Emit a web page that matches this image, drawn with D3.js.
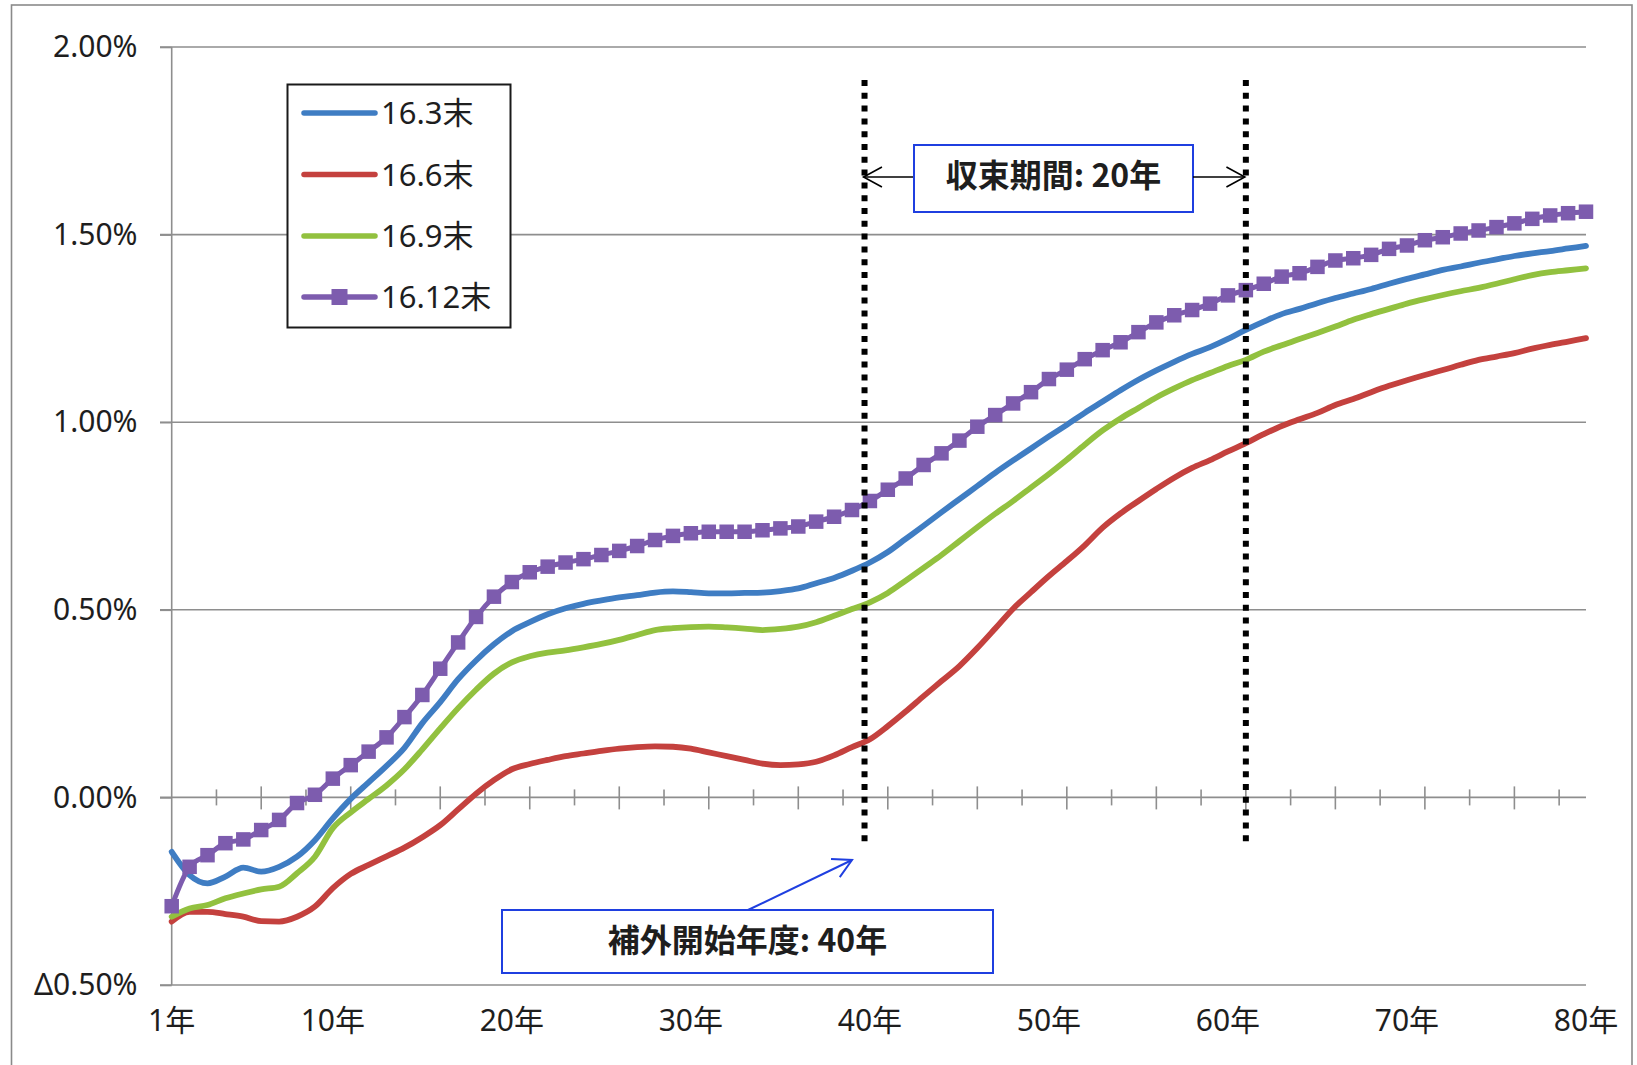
<!DOCTYPE html>
<html><head><meta charset="utf-8">
<script src="https://cdn.jsdelivr.net/npm/d3@7"></script>
<style>
html,body{margin:0;padding:0;background:#fff;}
svg{display:block;}
text{font-family:"Noto Sans","Noto Sans CJK JP",sans-serif;fill:#1e1e1e;}
</style></head><body>
<svg id="chart" width="1637" height="1065"></svg>
<script>
// Elapsed years (category axis) and labelled years
const years = d3.range(1, 81);
const xLabelYears = [1, 10, 20, 30, 40, 50, 60, 70, 80];
const yTickValues = [-0.5, 0, 0.5, 1.0, 1.5, 2.0];

// Series names (legend) and values in %
const seriesNames = ["16.3末", "16.6末", "16.9末", "16.12末"];
const seriesColors = ["#3f7dc3", "#c4413e", "#92c13f", "#7d5cae"];

const s163 = [
  -0.145,-0.207,-0.229,-0.211,-0.187,-0.198,-0.185,-0.158,-0.114,-0.056,
  -0.004,0.040,0.084,0.132,0.198,0.254,0.315,0.365,0.408,0.443,
  0.467,0.488,0.504,0.516,0.525,0.533,0.539,0.546,0.549,0.547,
  0.544,0.544,0.545,0.546,0.550,0.557,0.571,0.585,0.604,0.626,
  0.654,0.689,0.724,0.760,0.795,0.830,0.865,0.898,0.930,0.962,
  0.993,1.025,1.055,1.085,1.113,1.138,1.161,1.182,1.200,1.222,
  1.246,1.268,1.288,1.302,1.317,1.331,1.343,1.355,1.369,1.382,
  1.394,1.406,1.415,1.425,1.434,1.443,1.450,1.456,1.463,1.470];

const s166 = [
  -0.331,-0.305,-0.305,-0.311,-0.318,-0.330,-0.331,-0.318,-0.291,-0.242,
  -0.204,-0.180,-0.157,-0.134,-0.106,-0.074,-0.032,0.010,0.046,0.075,
  0.089,0.100,0.110,0.117,0.124,0.130,0.134,0.136,0.135,0.130,
  0.120,0.110,0.100,0.090,0.086,0.088,0.095,0.112,0.134,0.155,
  0.190,0.229,0.270,0.310,0.350,0.398,0.450,0.503,0.547,0.590,
  0.630,0.672,0.719,0.757,0.790,0.822,0.852,0.878,0.899,0.922,
  0.944,0.968,0.990,1.008,1.025,1.046,1.062,1.080,1.097,1.112,
  1.126,1.139,1.153,1.166,1.175,1.184,1.196,1.206,1.215,1.224];

const s169 = [
  -0.318,-0.296,-0.287,-0.269,-0.256,-0.245,-0.238,-0.202,-0.158,-0.082,
  -0.040,-0.004,0.032,0.075,0.128,0.184,0.238,0.287,0.330,0.360,
  0.376,0.386,0.392,0.400,0.409,0.420,0.433,0.446,0.451,0.454,
  0.455,0.453,0.450,0.446,0.449,0.455,0.467,0.484,0.502,0.520,
  0.545,0.578,0.612,0.646,0.683,0.720,0.756,0.790,0.826,0.862,
  0.900,0.940,0.978,1.010,1.038,1.066,1.090,1.112,1.131,1.150,
  1.166,1.188,1.205,1.222,1.238,1.255,1.273,1.288,1.302,1.316,
  1.328,1.339,1.349,1.358,1.369,1.381,1.392,1.400,1.405,1.410];

const s1612 = [
  -0.290,-0.185,-0.154,-0.122,-0.112,-0.087,-0.060,-0.015,0.007,0.050,
  0.086,0.122,0.160,0.214,0.273,0.343,0.413,0.481,0.535,0.574,
  0.600,0.615,0.626,0.635,0.646,0.657,0.670,0.686,0.697,0.704,
  0.708,0.708,0.708,0.712,0.717,0.722,0.735,0.748,0.766,0.790,
  0.820,0.850,0.886,0.917,0.951,0.988,1.019,1.050,1.080,1.115,
  1.140,1.168,1.192,1.213,1.240,1.266,1.285,1.299,1.316,1.338,
  1.352,1.369,1.388,1.397,1.414,1.431,1.437,1.446,1.462,1.471,
  1.485,1.493,1.503,1.511,1.520,1.530,1.542,1.551,1.557,1.561];

// Period markers (year positions) and their vertical extent in %
const periodLines = [39.7, 61.0];
const periodLineSpan = [1.912, -0.13];

const seriesValues = [s163, s166, s169, s1612];

const svg = d3.select("#chart");
const x = d3.scaleLinear().domain([1, 80]).range([171.7, 1586]);
const y = d3.scaleLinear().domain([-0.5, 2.0]).range([985, 47]);
const gridColor = "#8e8e8e";

// outer frame
svg.append("rect").attr("x", 11.5).attr("y", 5).attr("width", 1620.5).attr("height", 1070)
  .attr("fill", "none").attr("stroke", "#8a8a8a").attr("stroke-width", 1.6);

// horizontal gridlines (incl. bottom)
svg.append("g").selectAll("line").data(yTickValues.filter(v => v !== 0)).join("line")
  .attr("x1", 160).attr("x2", x(80)).attr("y1", d => y(d)).attr("y2", d => y(d))
  .attr("stroke", gridColor).attr("stroke-width", 1.6);

// y axis
const yAxis = d3.axisLeft(y).tickValues(yTickValues).tickSize(11.7).tickPadding(22.5)
  .tickFormat(v => (v < 0 ? "Δ" + Math.abs(v).toFixed(2) : v.toFixed(2)) + "%");
const gy = svg.append("g").attr("transform", `translate(${x(1)},0)`).call(yAxis);
gy.select(".domain").attr("stroke", gridColor).attr("stroke-width", 1.6).attr("d", `M0,${y(2)}V${y(-0.5)}`);
gy.selectAll(".tick line").attr("stroke", gridColor).attr("stroke-width", 1.6);
gy.selectAll(".tick text").attr("font-size", 30).attr("fill", "#1e1e1e")
  .attr("font-family", '"Noto Sans","Noto Sans CJK JP",sans-serif');

// zero axis with major / minor tick marks
const y0 = y(0);
svg.append("line").attr("x1", 160).attr("x2", x(80)).attr("y1", y0).attr("y2", y0)
  .attr("stroke", gridColor).attr("stroke-width", 1.6);
const majorTicks = d3.range(6, 80, 5);
const minorTicks = d3.range(3.5, 80, 5);
svg.append("g").selectAll("line").data(majorTicks).join("line")
  .attr("x1", d => x(d)).attr("x2", d => x(d)).attr("y1", y0 - 11).attr("y2", y0 + 12)
  .attr("stroke", gridColor).attr("stroke-width", 1.6);
svg.append("g").selectAll("line").data(minorTicks).join("line")
  .attr("x1", d => x(d)).attr("x2", d => x(d)).attr("y1", y0 - 8).attr("y2", y0 + 8)
  .attr("stroke", gridColor).attr("stroke-width", 1.6);

// year labels
svg.append("g").selectAll("text").data(xLabelYears).join("text")
  .attr("x", d => x(d)).attr("y", 1031).attr("text-anchor", "middle")
  .attr("font-size", 30).text(d => d + "年");

// series lines
const line = d3.line().x((d, i) => x(years[i])).y(d => y(d)).curve(d3.curveMonotoneX);
seriesValues.forEach((vals, k) => {
  svg.append("path").datum(vals).attr("d", line).attr("fill", "none")
    .attr("stroke", seriesColors[k]).attr("stroke-width", k === 3 ? 5 : 5.8)
    .attr("stroke-linejoin", "round").attr("stroke-linecap", "round");
});
// square markers on 16.12末
const ms = 14.5;
svg.append("g").selectAll("rect").data(s1612).join("rect")
  .attr("x", (d, i) => x(years[i]) - ms / 2).attr("y", d => y(d) - ms / 2)
  .attr("width", ms).attr("height", ms).attr("fill", seriesColors[3]);

// dotted period lines
svg.append("g").selectAll("line").data(periodLines).join("line")
  .attr("x1", d => x(d)).attr("x2", d => x(d))
  .attr("y1", y(periodLineSpan[0])).attr("y2", y(periodLineSpan[1]))
  .attr("stroke", "#000").attr("stroke-width", 6).attr("stroke-dasharray", "6 6.8");

// open arrowhead helper
function arrow(g, x1, y1, x2, y2, color, w) {
  g.append("line").attr("x1", x1).attr("y1", y1).attr("x2", x2).attr("y2", y2)
    .attr("stroke", color).attr("stroke-width", w);
  const a = Math.atan2(y2 - y1, x2 - x1), L = 21, s = 0.5;
  const p = [[x2 - L * Math.cos(a - s), y2 - L * Math.sin(a - s)], [x2, y2],
             [x2 - L * Math.cos(a + s), y2 - L * Math.sin(a + s)]];
  g.append("path").attr("d", "M" + p.map(q => q.join(",")).join("L"))
    .attr("fill", "none").attr("stroke", color).attr("stroke-width", w);
}

const ann = svg.append("g");
const boxBlue = "#1f3fe0";
// convergence period box
ann.append("rect").attr("x", 914).attr("y", 145).attr("width", 279).attr("height", 67)
  .attr("fill", "#fff").attr("stroke", boxBlue).attr("stroke-width", 2);
ann.append("text").attr("x", 1053.5).attr("y", 187).attr("text-anchor", "middle")
  .attr("font-size", 32).attr("font-weight", "bold").style("font-family", '"Noto Sans CJK JP",sans-serif')
  .text("収束期間: 20年");
arrow(ann, 913, 177, x(periodLines[0]) - 1, 177, "#000", 1.6);
arrow(ann, 1193, 177, x(periodLines[1]) - 1, 177, "#000", 1.6);

// extrapolation start box
ann.append("rect").attr("x", 502).attr("y", 910).attr("width", 491).attr("height", 63)
  .attr("fill", "#fff").attr("stroke", boxBlue).attr("stroke-width", 2);
ann.append("text").attr("x", 747.5).attr("y", 952).attr("text-anchor", "middle")
  .attr("font-size", 32).attr("font-weight", "bold").style("font-family", '"Noto Sans CJK JP",sans-serif')
  .text("補外開始年度: 40年");
arrow(ann, 748, 910, 852, 860, boxBlue, 2);

// legend
const lg = svg.append("g");
lg.append("rect").attr("x", 287.5).attr("y", 84.5).attr("width", 223).attr("height", 243)
  .attr("fill", "#fff").attr("stroke", "#1a1a1a").attr("stroke-width", 2);
const legendY = [113, 174.5, 236, 297];
seriesNames.forEach((name, k) => {
  lg.append("line").attr("x1", 304).attr("x2", 375).attr("y1", legendY[k]).attr("y2", legendY[k])
    .attr("stroke", seriesColors[k]).attr("stroke-width", 5.5).attr("stroke-linecap", "round");
  if (k === 3) {
    lg.append("rect").attr("x", 339.5 - 8).attr("y", legendY[k] - 8).attr("width", 16).attr("height", 16)
      .attr("fill", seriesColors[k]);
  }
  lg.append("text").attr("x", 381).attr("y", legendY[k] + 11).attr("font-size", 31).text(name);
});
</script>
</body></html>
